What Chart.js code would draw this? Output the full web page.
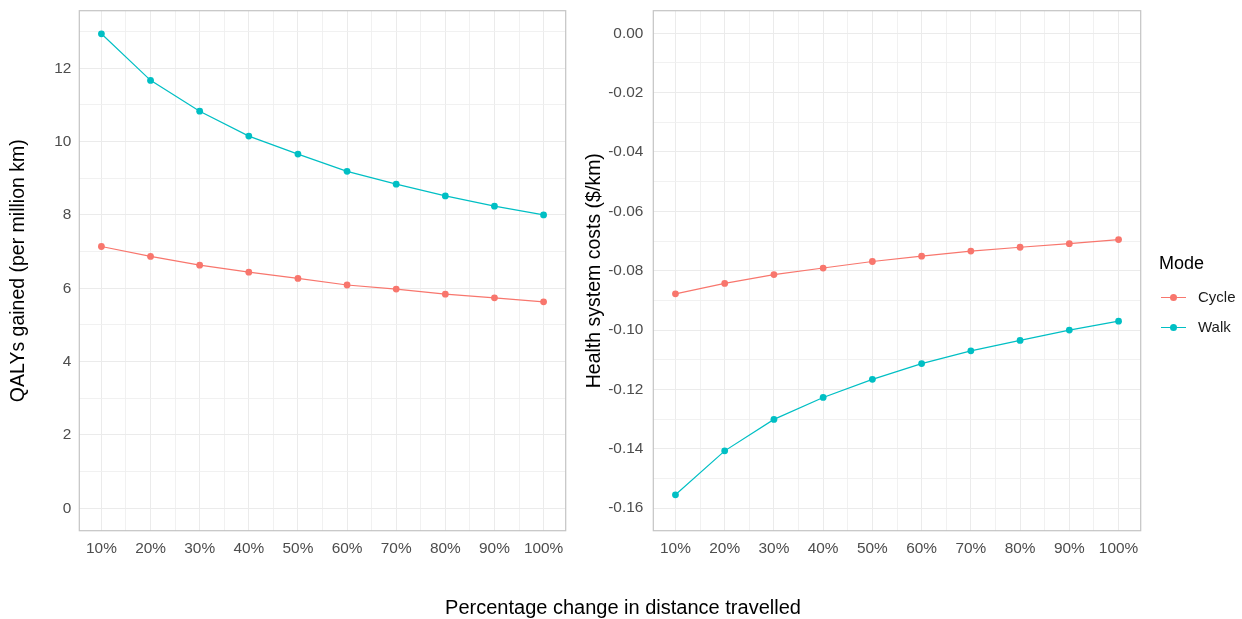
<!DOCTYPE html>
<html>
<head>
<meta charset="utf-8">
<script src="https://cdn.jsdelivr.net/npm/chart.js@4/dist/chart.umd.min.js"></script>
<style>
  html, body { margin: 0; padding: 0; background: #fff; }
  #wrap { position: relative; width: 1242px; height: 619px; overflow: hidden; font-family: "Liberation Sans", Arial, sans-serif; }
  canvas { position: absolute; left: 0; top: 0; }
  #xtitle { position: absolute; left: 0; width: 1246px; top: 595px; text-align: center; font-size: 20px; line-height: 24px; color: #000; }
  #legend { position: absolute; left: 1159px; top: 252px; }
  #legend .title { font-size: 18px; line-height: 22px; color: #000; margin-bottom: 13px; }
  #legend .item { position: relative; height: 30px; }
  #legend .line { position: absolute; left: 2px; top: 10px; width: 25px; height: 1.3px; }
  #legend .dot { position: absolute; left: 11px; top: 7px; width: 7px; height: 7px; border-radius: 50%; }
  #legend .lab { position: absolute; left: 39px; top: 1px; font-size: 15px; color: #1a1a1a; }
</style>
</head>
<body>
<div id="wrap">
  <canvas id="c1" width="1242" height="619"></canvas>
  <canvas id="c2" width="1242" height="619"></canvas>
  <div id="xtitle">Percentage change in distance travelled</div>
  <div id="legend"></div>
</div>
<script>
// ---- Data ----
const seriesNames = ['Cycle', 'Walk'];
const seriesColors = ['#F8766D', '#00BFC4'];
const xValues = [0.1, 0.2, 0.3, 0.4, 0.5, 0.6, 0.7, 0.8, 0.9, 1.0];
const xTickLabels = ['10%', '20%', '30%', '40%', '50%', '60%', '70%', '80%', '90%', '100%'];

const qalyCycle = [7.14, 6.87, 6.63, 6.44, 6.27, 6.09, 5.98, 5.84, 5.74, 5.63];
const qalyWalk  = [12.94, 11.67, 10.83, 10.15, 9.66, 9.19, 8.84, 8.52, 8.24, 8.00];

const costCycle = [-0.0878, -0.0843, -0.0813, -0.0791, -0.0769, -0.0751, -0.0734, -0.0721, -0.0709, -0.0695];
const costWalk  = [-0.1555, -0.1407, -0.1301, -0.1227, -0.1166, -0.1113, -0.1070, -0.1035, -0.1000, -0.0970];

const qalyTicks = [0, 2, 4, 6, 8, 10, 12];
const costTicks = [0.00, -0.02, -0.04, -0.06, -0.08, -0.10, -0.12, -0.14, -0.16];

// ---- Helpers ----
const FONT = '"Liberation Sans", Arial, sans-serif';
const GRID = '#EBEBEB';
const MINOR = '#EFEFEF';
const TICK_SIZE = 15.4;
const TITLE_SIZE = 19.5;

function toPoints(vals) { return xValues.map((x, i) => ({ x: x, y: vals[i] })); }

function makeDatasets(a, b) {
  return [a, b].map((vals, i) => ({
    label: seriesNames[i],
    data: toPoints(vals),
    borderColor: seriesColors[i],
    backgroundColor: seriesColors[i],
    borderWidth: 1.2,
    pointRadius: 3.4,
    pointHoverRadius: 3.4,
    pointBorderWidth: 0,
    tension: 0
  }));
}

function near(a, b) { return Math.abs(a - b) < 1e-6; }

function xScale() {
  return {
    type: 'linear',
    min: 0.055, max: 1.045,
    afterBuildTicks: s => {
      const t = [];
      xValues.forEach((v, i) => {
        t.push({ value: v });
        if (i < xValues.length - 1) t.push({ value: (v + xValues[i + 1]) / 2 });
      });
      s.ticks = t;
    },
    afterFit: s => { s.height = 619 - 530.7; s.paddingLeft = 0; s.paddingRight = 0; },
    grid: {
      drawTicks: false,
      color: c => xValues.some(v => near(v, c.tick.value)) ? GRID : MINOR,
      lineWidth: c => xValues.some(v => near(v, c.tick.value)) ? 1 : 0.9
    },
    border: { display: false },
    ticks: {
      autoSkip: false, maxRotation: 0, padding: 9,
      color: '#4D4D4D', font: { family: FONT, size: TICK_SIZE },
      callback: v => { const i = xValues.findIndex(x => near(x, v)); return i >= 0 ? xTickLabels[i] : ''; }
    }
  };
}

function yScale(min, max, majors, minorStep, fmt, width, title, titlePad, tickPad) {
  return {
    type: 'linear', min: min, max: max,
    afterBuildTicks: s => {
      const t = [];
      majors.forEach(v => { t.push({ value: v }); });
      majors.forEach(v => {
        [v + minorStep, v - minorStep].forEach(m => {
          if (m > min && m < max && !t.some(q => near(q.value, m))) t.push({ value: m });
        });
      });
      t.sort((a, b) => a.value - b.value);
      s.ticks = t;
    },
    afterFit: s => { s.width = width; s.paddingTop = 0; s.paddingBottom = 0; },
    grid: {
      drawTicks: false,
      color: c => majors.some(v => near(v, c.tick.value)) ? GRID : MINOR,
      lineWidth: c => majors.some(v => near(v, c.tick.value)) ? 1 : 0.9
    },
    border: { display: false },
    title: { display: true, text: title, color: '#000', font: { family: FONT, size: TITLE_SIZE }, padding: { top: titlePad, bottom: 0 } },
    ticks: {
      autoSkip: false, padding: tickPad,
      color: '#4D4D4D', font: { family: FONT, size: TICK_SIZE },
      callback: v => { const i = majors.findIndex(x => near(x, v)); return i >= 0 ? fmt(majors[i]) : ''; }
    }
  };
}

const panelBorder = {
  id: 'panelBorder',
  afterDatasetsDraw(chart) {
    const a = chart.chartArea, ctx = chart.ctx;
    ctx.save();
    ctx.strokeStyle = '#C4C4C4';
    ctx.lineWidth = 1.2;
    ctx.strokeRect(a.left, a.top, a.right - a.left, a.bottom - a.top);
    ctx.restore();
  }
};

function makeChart(id, datasets, y, pad) {
  return new Chart(document.getElementById(id), {
    type: 'line',
    data: { datasets: datasets },
    options: {
      responsive: false, animation: false, devicePixelRatio: 1,
      layout: { padding: pad },
      plugins: { legend: { display: false }, tooltip: { enabled: false } },
      scales: { x: xScale(), y: y },
      clip: false
    },
    plugins: [panelBorder]
  });
}

makeChart('c1', makeDatasets(qalyCycle, qalyWalk),
  yScale(-0.61, 13.57, qalyTicks, 1, v => String(v), 79.3, 'QALYs gained (per million km)', 7, 8),
  { left: 0, top: 10.7, right: 1242 - 565.7, bottom: 0 });

makeChart('c2', makeDatasets(costCycle, costWalk),
  yScale(-0.1676, 0.0076, costTicks, 0.01, v => (Math.abs(v) < 1e-9 ? 0 : v).toFixed(2), 75.3, 'Health system costs ($/km)', 4.5, 10),
  { left: 578, top: 10.7, right: 1242 - 1140.7, bottom: 0 });

// ---- Legend (HTML) ----
const lg = document.getElementById('legend');
let html = '<div class="title">Mode</div>';
seriesNames.forEach((n, i) => {
  html += '<div class="item"><div class="line" style="background:' + seriesColors[i] + '"></div>' +
          '<div class="dot" style="background:' + seriesColors[i] + '"></div>' +
          '<div class="lab">' + n + '</div></div>';
});
lg.innerHTML = html;
</script>
</body>
</html>
